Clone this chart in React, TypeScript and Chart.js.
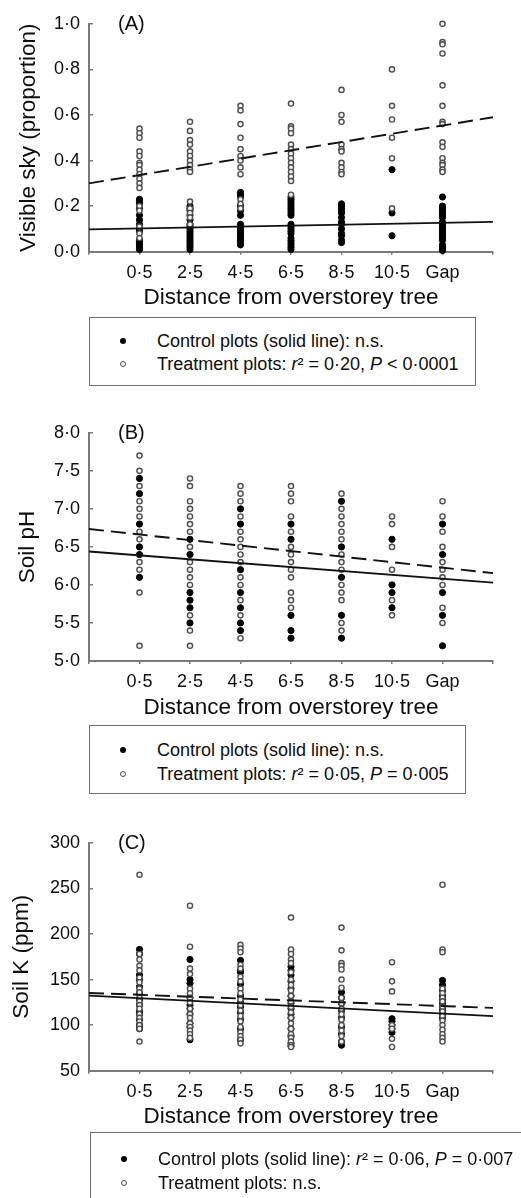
import React, { useEffect, useRef } from 'react';
import { Chart, registerables } from 'chart.js';

Chart.register(...registerables);

const FONT = "'Liberation Sans', Arial, Helvetica, sans-serif";
const TEXT = '#0d0d0d';
const AXIS = '#7a7a7a';

const categories = ['0·5', '2·5', '4·5', '6·5', '8·5', '10·5', 'Gap'];
const xTickValues = [-1, 0, 1, 2, 3, 4, 5, 6, 7];
const lineX = [-1, 7];
const xTitle = 'Distance from overstorey tree';

// Panel A: visible sky (proportion)
const skyControl = [
  [0.23, 0.22, 0.21, 0.19, 0.16, 0.14, 0.12, 0.10, 0.09, 0.05, 0.04, 0.03, 0.02, 0.01],
  [0.20, 0.19, 0.18, 0.16, 0.14, 0.12, 0.11, 0.10, 0.09, 0.08, 0.07, 0.06, 0.05, 0.04, 0.03, 0.02, 0.01],
  [0.26, 0.25, 0.24, 0.20, 0.18, 0.16, 0.12, 0.11, 0.10, 0.09, 0.08, 0.07, 0.06, 0.05, 0.04, 0.03],
  [0.24, 0.23, 0.22, 0.21, 0.20, 0.19, 0.18, 0.17, 0.16, 0.12, 0.11, 0.10, 0.09, 0.08, 0.06, 0.05, 0.04, 0.03, 0.02, 0.01],
  [0.21, 0.20, 0.19, 0.18, 0.17, 0.15, 0.13, 0.12, 0.10, 0.08, 0.07, 0.05, 0.04],
  [0.36, 0.17, 0.07],
  [0.24, 0.20, 0.19, 0.18, 0.17, 0.16, 0.15, 0.13, 0.12, 0.11, 0.10, 0.09, 0.08, 0.07, 0.06, 0.05, 0.03, 0.02, 0.01, 0.005],
];
const skyTreatment = [
  [0.54, 0.52, 0.50, 0.44, 0.42, 0.39, 0.38, 0.36, 0.34, 0.32, 0.30, 0.28, 0.20, 0.18, 0.11, 0.08, 0.06],
  [0.57, 0.53, 0.49, 0.47, 0.44, 0.42, 0.40, 0.38, 0.36, 0.35, 0.22, 0.19, 0.17, 0.15, 0.12],
  [0.64, 0.62, 0.56, 0.50, 0.45, 0.42, 0.40, 0.37, 0.34, 0.23, 0.21, 0.19],
  [0.65, 0.55, 0.54, 0.52, 0.47, 0.45, 0.43, 0.41, 0.39, 0.37, 0.35, 0.33, 0.31, 0.25],
  [0.71, 0.60, 0.57, 0.47, 0.45, 0.44, 0.39, 0.37, 0.35, 0.34],
  [0.80, 0.64, 0.58, 0.50, 0.41, 0.19],
  [1.0, 0.92, 0.91, 0.87, 0.73, 0.64, 0.57, 0.56, 0.48, 0.46, 0.41, 0.39, 0.38, 0.36, 0.35],
];
const skyControlLine = [0.098, 0.131];
const skyTreatmentLine = [0.30, 0.59];
const skyTicks = [0, 1, 0.2];

// Panel B: soil pH
const phControl = [
  [7.4, 7.2, 6.8, 6.5, 6.4, 6.1],
  [6.6, 6.4, 5.9, 5.8, 5.7, 5.5],
  [7.0, 6.8, 6.2, 5.9, 5.7, 5.5, 5.4],
  [6.8, 6.6, 5.6, 5.4, 5.3],
  [7.1, 6.5, 6.1, 5.6, 5.3],
  [6.6, 6.0, 5.9, 5.7],
  [6.8, 6.4, 5.9, 5.6, 5.2],
];
const phTreatment = [
  [7.7, 7.5, 7.3, 7.1, 7.0, 6.9, 6.7, 6.6, 6.3, 6.2, 5.9, 5.2],
  [7.4, 7.3, 7.1, 7.0, 6.9, 6.8, 6.7, 6.5, 6.3, 6.2, 6.1, 6.0, 5.6, 5.4, 5.2],
  [7.3, 7.2, 7.1, 6.9, 6.7, 6.6, 6.5, 6.4, 6.3, 6.1, 6.0, 5.8, 5.6, 5.3],
  [7.3, 7.2, 7.1, 6.9, 6.7, 6.5, 6.4, 6.3, 6.2, 6.1, 5.9, 5.8, 5.7],
  [7.2, 7.0, 6.9, 6.8, 6.7, 6.6, 6.4, 6.3, 6.2, 6.0, 5.9, 5.8, 5.5, 5.4],
  [6.9, 6.8, 6.5, 6.2, 5.8, 5.6],
  [7.1, 6.9, 6.7, 6.5, 6.3, 6.2, 6.1, 6.0, 5.7, 5.5],
];
const phControlLine = [6.44, 6.03];
const phTreatmentLine = [6.735, 6.155];
const phTicks = [5, 8, 0.5];

// Panel C: soil K (ppm)
const kControl = [
  [183, 178, 155, 150, 142, 135, 128, 122, 115, 112, 106, 100, 96],
  [172, 150, 146, 130, 122, 118, 112, 102, 98, 84],
  [171, 160, 158, 145, 132, 125, 120, 114, 106, 96, 84],
  [164, 160, 155, 148, 140, 132, 124, 118, 112, 108, 96, 88, 80, 77],
  [136, 130, 124, 116, 108, 98, 90, 82, 78],
  [107, 104, 100, 96, 92],
  [149, 144, 138, 132, 128, 124, 120, 116, 112, 108],
];
const kTreatment = [
  [265, 178, 172, 165, 160, 152, 147, 140, 136, 130, 126, 122, 118, 112, 108, 104, 100, 96, 82],
  [231, 186, 162, 156, 140, 135, 130, 125, 118, 112, 108, 102, 98, 94, 90, 86],
  [188, 184, 180, 166, 162, 153, 148, 140, 135, 128, 122, 116, 110, 104, 98, 92, 88, 84, 80],
  [218, 183, 178, 172, 168, 158, 150, 144, 138, 132, 126, 120, 114, 108, 102, 96, 90, 86, 82, 78, 76],
  [207, 182, 168, 165, 161, 150, 141, 130, 124, 118, 112, 106, 100, 94, 88, 82],
  [169, 148, 137, 100, 96, 85, 76],
  [254, 183, 180, 140, 135, 130, 126, 120, 115, 110, 105, 100, 95, 90, 86, 82],
];
const kControlLine = [132.4, 109.9];
const kTreatmentLine = [135.3, 118.9];
const kTicks = [50, 300, 50];

const toPoints = (cols: number[][]) =>
  cols.flatMap((vals, i) => vals.map((v) => ({ x: i, y: v })));
const toLine = (ys: number[]) => lineX.map((x, i) => ({ x, y: ys[i] }));

const letterPlugin = {
  id: 'panelLetter',
  afterDraw(chart: any, _args: any, opts: any) {
    const { ctx, chartArea } = chart;
    ctx.save();
    ctx.font = `20px ${FONT}`;
    ctx.fillStyle = TEXT;
    ctx.textBaseline = 'middle';
    ctx.textAlign = 'left';
    ctx.fillText(opts.text, chartArea.left + 29, chartArea.top + 1);
    ctx.restore();
  },
};

type PanelProps = {
  top: number;
  bottom: number;
  letter: string;
  yTitle: string;
  yTitleCenter: number;
  ticks: number[];
  decimals: number;
  control: number[][];
  treatment: number[][];
  controlLine: number[];
  treatmentLine: number[];
};

const H = 316;

function Panel(p: PanelProps) {
  const ref = useRef<HTMLCanvasElement>(null);
  const T = Math.floor(p.top) - 22;
  const padTop = p.top - T;
  const xHeight = H - (p.bottom - T);

  useEffect(() => {
    if (!ref.current) return;
    const chart = new Chart(ref.current, {
      type: 'scatter',
      data: {
        datasets: [
          {
            type: 'line',
            data: toLine(p.controlLine),
            borderColor: '#111',
            borderWidth: 1.9,
            pointRadius: 0,
            fill: false,
            order: 0,
            clip: false,
          } as any,
          {
            type: 'line',
            data: toLine(p.treatmentLine),
            borderColor: '#111',
            borderWidth: 1.9,
            borderDash: [15, 7],
            pointRadius: 0,
            fill: false,
            order: 1,
            clip: false,
          } as any,
          {
            data: toPoints(p.treatment),
            pointRadius: 2.6,
            pointBackgroundColor: '#f4f4f4',
            pointBorderColor: '#4d4d4d',
            pointBorderWidth: 1.4,
            order: 2,
            clip: false,
          } as any,
          {
            data: toPoints(p.control),
            pointRadius: 3.1,
            pointBackgroundColor: '#000',
            pointBorderColor: '#000',
            pointBorderWidth: 1,
            order: 3,
            clip: false,
          } as any,
        ],
      },
      options: {
        responsive: false,
        animation: false,
        events: [],
        layout: { padding: { top: padTop, right: 28, left: 0, bottom: 0 } },
        plugins: {
          legend: { display: false },
          tooltip: { enabled: false },
          panelLetter: { text: p.letter },
        } as any,
        scales: {
          x: {
            type: 'linear',
            min: -1,
            max: 7,
            afterBuildTicks: (s: any) => {
              s.ticks = xTickValues.map((v) => ({ value: v }));
            },
            ticks: {
              callback: (v: any) => categories[Number(v)] ?? '',
              font: { family: FONT, size: 18 },
              color: TEXT,
              padding: 7.5,
              maxRotation: 0,
              autoSkip: false,
            },
            grid: {
              display: true,
              drawOnChartArea: false,
              drawTicks: true,
              tickLength: 3,
              color: AXIS,
              lineWidth: 1.5,
            },
            border: { display: true, color: AXIS, width: 2 },
            title: {
              display: true,
              text: xTitle,
              font: { family: FONT, size: 22.5 },
              color: TEXT,
              padding: { top: 0, bottom: xHeight - 46.5 - 13.5 },
            },
            afterFit: (s: any) => {
              s.height = xHeight;
            },
          },
          y: {
            type: 'linear',
            min: p.ticks[0],
            max: p.ticks[1],
            ticks: {
              stepSize: p.ticks[2],
              callback: (v: any) => Number(v).toFixed(p.decimals).replace('.', '·'),
              font: { family: FONT, size: 18 },
              color: TEXT,
              padding: 13,
            },
            grid: {
              display: true,
              drawOnChartArea: false,
              drawTicks: true,
              tickLength: -4,
              color: AXIS,
              lineWidth: 1.5,
            },
            border: { display: true, color: AXIS, width: 2 },
            title: {
              display: true,
              text: p.yTitle,
              font: { family: FONT, size: 22.5 },
              color: TEXT,
              padding: { top: p.yTitleCenter - 13.5, bottom: 0 },
            },
            afterFit: (s: any) => {
              s.width = 89;
            },
          },
        },
      } as any,
      plugins: [letterPlugin],
    });
    return () => chart.destroy();
  }, []);

  return (
    <canvas
      ref={ref}
      width={521}
      height={H}
      style={{ position: 'absolute', left: 0, top: T, width: 521, height: H }}
    />
  );
}

type LegendProps = {
  left: number;
  top: number;
  width: number;
  height: number;
  line1: number;
  line2: number;
  children: React.ReactNode[];
};

function Marker({ filled }: { filled: boolean }) {
  return (
    <span
      style={{
        position: 'absolute',
        left: 33 - 3,
        top: 11 - 3,
        width: 6,
        height: 6,
        boxSizing: 'border-box',
        borderRadius: '50%',
        background: filled ? '#000' : '#f4f4f4',
        border: filled ? 'none' : '1.3px solid #4d4d4d',
      }}
    />
  );
}

function Legend(p: LegendProps) {
  const lineStyle = (c: number): React.CSSProperties => ({
    position: 'absolute',
    left: 0,
    top: c - 11,
    height: 22,
    width: 600,
    lineHeight: '22px',
    whiteSpace: 'nowrap',
  });
  const textStyle: React.CSSProperties = { position: 'absolute', left: 67, top: 0 };
  return (
    <div
      style={{
        position: 'absolute',
        left: p.left,
        top: p.top,
        width: p.width,
        height: p.height,
        boxSizing: 'border-box',
        border: '1.5px solid #6e6e6e',
        fontFamily: FONT,
        fontSize: 18,
        color: TEXT,
      }}
    >
      <div style={lineStyle(p.line1)}>
        <Marker filled={true} />
        <span style={textStyle}>{p.children[0]}</span>
      </div>
      <div style={lineStyle(p.line2)}>
        <Marker filled={false} />
        <span style={textStyle}>{p.children[1]}</span>
      </div>
    </div>
  );
}

export default function App() {
  return (
    <div
      style={{
        position: 'absolute',
        left: 0,
        top: 0,
        width: 521,
        height: 1198,
        overflow: 'hidden',
        background: '#fff',
      }}
    >
      <Panel
        top={22.7}
        bottom={251.7}
        letter="(A)"
        yTitle="Visible sky (proportion)"
        yTitleCenter={29}
        ticks={skyTicks}
        decimals={1}
        control={skyControl}
        treatment={skyTreatment}
        controlLine={skyControlLine}
        treatmentLine={skyTreatmentLine}
      />
      <Legend left={89} top={316.7} width={387} height={69} line1={23.3} line2={46.3}>
        {[
          <>Control plots (solid line): n.s.</>,
          <>
            Treatment plots: <i>r</i>² = 0·20, <i>P</i> &lt; 0·0001
          </>,
        ]}
      </Legend>
      <Panel
        top={431.7}
        bottom={661}
        letter="(B)"
        yTitle="Soil pH"
        yTitleCenter={28}
        ticks={phTicks}
        decimals={1}
        control={phControl}
        treatment={phTreatment}
        controlLine={phControlLine}
        treatmentLine={phTreatmentLine}
      />
      <Legend left={89} top={725} width={377} height={69} line1={24.3} line2={47.7}>
        {[
          <>Control plots (solid line): n.s.</>,
          <>
            Treatment plots: <i>r</i>² = 0·05, <i>P</i> = 0·005
          </>,
        ]}
      </Legend>
      <Panel
        top={841}
        bottom={1070.7}
        letter="(C)"
        yTitle="Soil K (ppm)"
        yTitleCenter={22}
        ticks={kTicks}
        decimals={0}
        control={kControl}
        treatment={kTreatment}
        controlLine={kControlLine}
        treatmentLine={kTreatmentLine}
      />
      <Legend left={90} top={1132.3} width={460} height={80} line1={26} line2={49.4}>
        {[
          <>
            Control plots (solid line): <i>r</i>² = 0·06, <i>P</i> = 0·007
          </>,
          <>Treatment plots: n.s.</>,
        ]}
      </Legend>
    </div>
  );
}
